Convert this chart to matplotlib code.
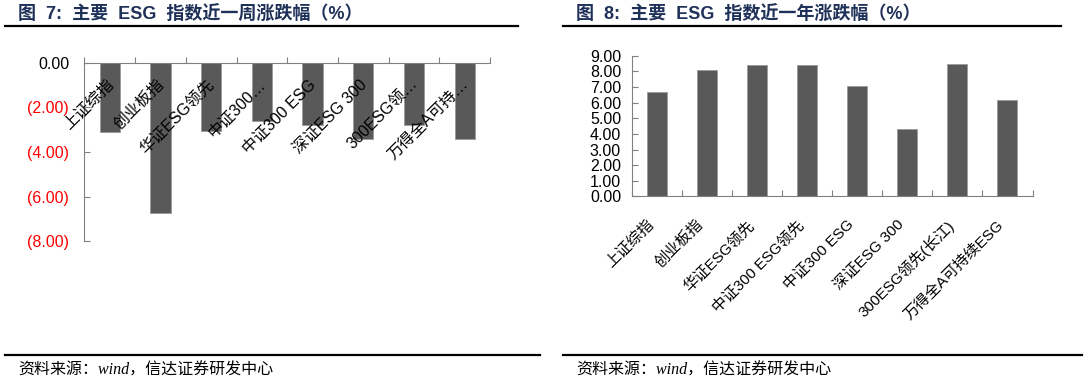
import matplotlib
matplotlib.use("Agg")
import matplotlib.pyplot as plt
from matplotlib.lines import Line2D
from matplotlib.ticker import FixedLocator, FuncFormatter
from matplotlib.transforms import offset_copy

plt.rcParams["font.family"] = ["Liberation Sans", "Noto Sans CJK SC"]

# week change (left) and year change (right), %
week_labels = ["上证综指", "创业板指", "华证ESG领先", "中证300…",
               "中证300 ESG", "深证ESG 300", "300ESG领…", "万得全A可持…"]
week_values = [-3.11, -6.75, -3.06, -2.61, -2.79, -3.43, -2.80, -3.40]

year_labels = ["上证综指", "创业板指", "华证ESG领先", "中证300 ESG领先",
               "中证300 ESG", "深证ESG 300", "300ESG领先(长江)", "万得全A可持续ESG"]
year_values = [6.70, 8.09, 8.40, 8.40, 7.05, 4.34, 8.47, 6.19]

week_ticks = [0, -2, -4, -6, -8]
year_ticks = [0, 1, 2, 3, 4, 5, 6, 7, 8, 9]

bar_color = "#595959"
edge_color = "#9a9a9a"
axis_color = "#808080"
title_color = "#1f3158"
ytick_size = 11.5

fig = plt.figure(figsize=(10.88, 3.85), dpi=100)


def cat_labels(ax, labels, dx, dy, size):
    # rotated category names, top-right corner hung below the axis line
    y0 = 1 if ax.get_ylim()[1] <= 0 else 0
    trans = offset_copy(ax.get_xaxis_transform(), fig=fig, x=dx, y=dy,
                        units="dots")
    for i, lab in enumerate(labels):
        ax.text(i, y0, lab, transform=trans, rotation=45, ha="right",
                va="top", rotation_mode="anchor", fontsize=size,
                color="black")


# ---- left: week ----
ax1 = fig.add_axes([0.0775, 0.373, 0.373, 0.464])
n = len(week_values)
ax1.bar(range(n), week_values, width=0.4, color=bar_color,
        edgecolor=edge_color, linewidth=0.6)
ax1.set_xlim(-0.5, n - 0.5)
ax1.set_ylim(-8, 0)
ax1.yaxis.set_major_locator(FixedLocator(week_ticks))
ax1.yaxis.set_major_formatter(
    FuncFormatter(lambda v, p: "0.00" if v == 0 else f"({abs(v):.2f})"))
for spine in ["right", "bottom"]:
    ax1.spines[spine].set_visible(False)
for spine in ["left", "top"]:
    ax1.spines[spine].set_color(axis_color)
ax1.xaxis.tick_top()
ax1.set_xticks([i + 0.5 for i in range(-1, n)])
ax1.set_xticklabels([])
ax1.tick_params(axis="x", direction="out", length=4, color=axis_color)
ax1.tick_params(axis="y", direction="in", length=4, color=axis_color,
                labelsize=ytick_size, pad=11)
for lbl in ax1.get_yticklabels():
    lbl.set_color("black" if lbl.get_text() == "0.00" else "#ff0000")
cat_labels(ax1, week_labels, -4, -14, 11.5)

# ---- right: year ----
ax2 = fig.add_axes([0.581, 0.49, 0.368, 0.365])
m = len(year_values)
ax2.bar(range(m), year_values, width=0.4, color=bar_color,
        edgecolor=edge_color, linewidth=0.6)
ax2.set_xlim(-0.5, m - 0.5)
ax2.set_ylim(0, 9)
ax2.yaxis.set_major_locator(FixedLocator(year_ticks))
ax2.yaxis.set_major_formatter(FuncFormatter(lambda v, p: f"{v:.2f}"))
for spine in ["right", "top"]:
    ax2.spines[spine].set_visible(False)
for spine in ["left", "bottom"]:
    ax2.spines[spine].set_color(axis_color)
ax2.set_xticks([i + 0.5 for i in range(-1, m)])
ax2.set_xticklabels([])
ax2.tick_params(axis="x", direction="in", length=4, color=axis_color)
ax2.tick_params(axis="y", direction="in", length=4, color=axis_color,
                labelsize=ytick_size, pad=8)
cat_labels(ax2, year_labels, -11, -21, 11)

# ---- titles, rules, source ----
fig.text(18 / 1088, 1 - 15 / 385, "图  7:  主要  ESG  指数近一周涨跌幅（%）",
         fontsize=13, fontweight="bold", color=title_color, va="center")
fig.text(576 / 1088, 1 - 15 / 385, "图  8:  主要  ESG  指数近一年涨跌幅（%）",
         fontsize=13, fontweight="bold", color=title_color, va="center")

for x0, x1, y in [(5, 518, 26), (563, 1061, 26), (5, 540, 355), (563, 1082, 355)]:
    fig.add_artist(Line2D([x0 / 1088, x1 / 1088], [1 - y / 385, 1 - y / 385],
                          color="black", linewidth=1.6))

src = "资料来源：wind，信达证券研发中心"
for x0 in [18, 576]:
    fig.text(x0 / 1088, 1 - 371 / 385, src, fontsize=11.5, style="italic",
             family=["Liberation Serif", "Noto Sans CJK SC"], va="center")

fig.savefig("out.png", dpi=100)
